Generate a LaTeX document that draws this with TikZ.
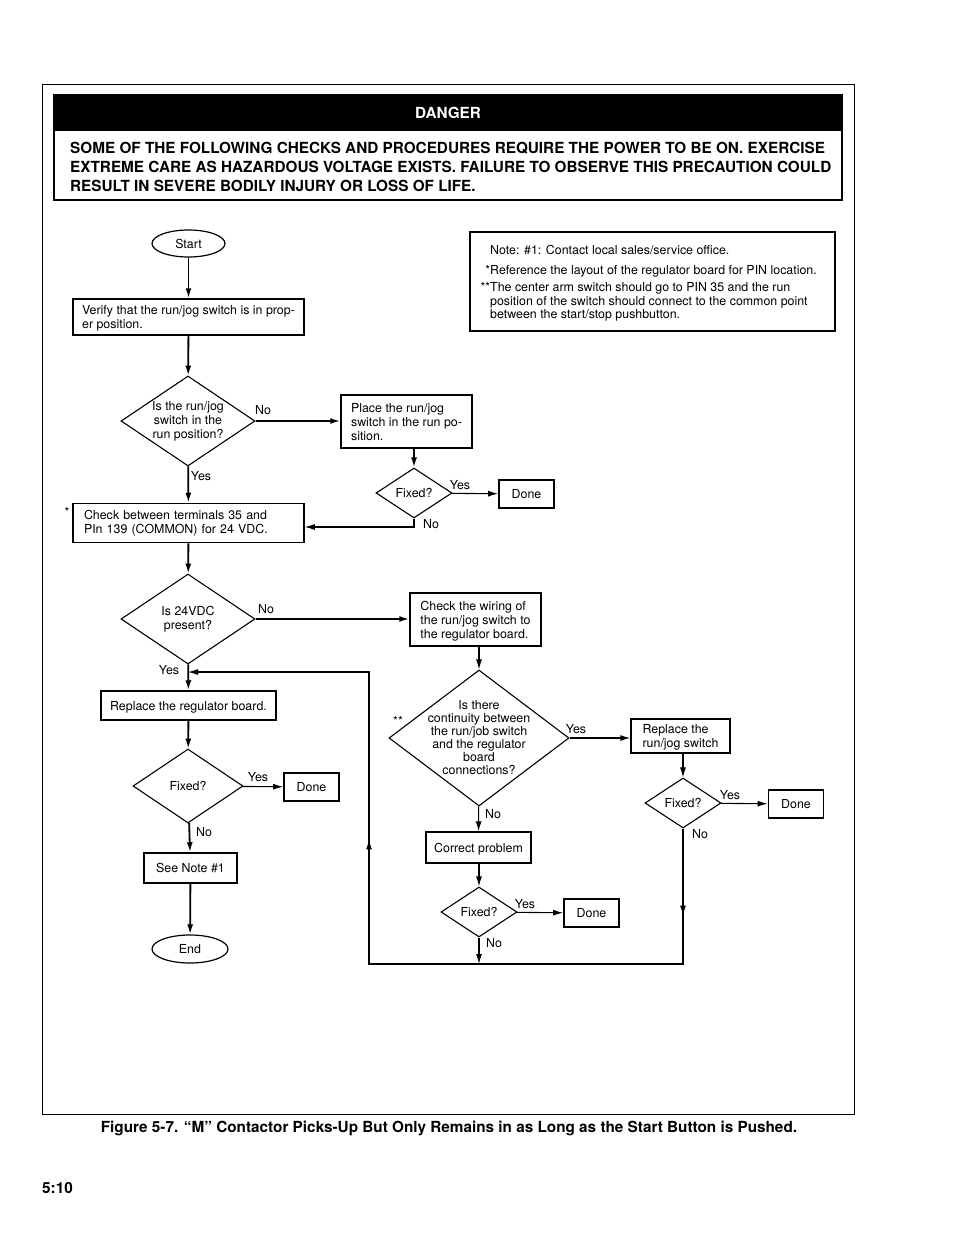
\documentclass[tikz,border=0pt]{standalone}
\usepackage{fontspec}
\setmainfont{TeX Gyre Heros}
\usetikzlibrary{shapes.geometric,arrows.meta,decorations.markings}

\begin{document}
\begin{tikzpicture}
        [x=1pt, y=-1pt,
        font=\fontsize{12.4}{14}\selectfont,
        box/.style={draw, line width=1.5pt, align=left, inner sep=0pt, text depth=-1.5pt},
        donebox/.style={draw, line width=1.8pt, inner sep=0pt, text depth=0pt,
            minimum width=55pt, minimum height=28pt},
        term/.style={ellipse, draw, line width=1.2pt, inner sep=0pt},
        decision/.style={diamond, draw, line width=1.1pt, inner sep=0pt},
        dtext/.style={align=center, inner sep=0pt},
        lbl/.style={inner sep=0pt, text height=9pt, text depth=0pt},
        bold/.style={inner sep=0pt, font=\bfseries\fontsize{15.3}{19}\selectfont},
        arrow/.style={line width=1.8pt, -{Latex[length=10pt,width=6pt]}},
        thinarrow/.style={line width=1.1pt, -{Latex[length=10pt,width=6pt]}},
        loopline/.style={line width=1.1pt, -{Latex[length=10pt,width=6pt]},
            postaction={decorate},
            decoration={markings,
                mark=at position 87pt with {\arrow{Latex[length=10pt,width=6pt]}},
                mark=at position 574pt with {\arrow{Latex[length=10pt,width=6pt]}}}}]
    \useasboundingbox (0,0) rectangle (954,1235);
    % page frame
    \draw[line width=1pt] (42,84) rectangle (854,1114);
    % danger panel
    \node[bold, fill=black, text=white, text depth=-6pt, minimum width=788pt, minimum height=36pt]
        (dangerhead) at (448,113) {DANGER};
    \node[draw, line width=1.8pt, inner sep=0pt, minimum width=788pt, minimum height=105pt]
        (danger) at (448,147.5) {};
    \node[bold, align=left, anchor=north west] (dangertxt) at (70,141.5)
        {SOME OF THE FOLLOWING CHECKS AND PROCEDURES REQUIRE THE POWER TO BE ON. EXERCISE\\
         EXTREME CARE AS HAZARDOUS VOLTAGE EXISTS. FAILURE TO OBSERVE THIS PRECAUTION COULD\\
         RESULT IN SEVERE BODILY INJURY OR LOSS OF LIFE.};
    % notes
    \node[draw, line width=1.2pt, minimum width=365pt, minimum height=99pt]
        (notebox) at (652.5,281.5) {};
    \node[inner sep=0pt, align=left, anchor=north west,
        font=\fontsize{12.4}{13.5}\selectfont] (notetxt) at (490,245.5)
        {Note: \#1: Contact local sales/service office.\\[6pt]
         \llap{*}Reference the layout of the regulator board for PIN location.\\[4pt]
         \llap{**}The center arm switch should go to PIN 35 and the run\\
         position of the switch should connect to the common point\\
         between the start/stop pushbutton.};

    % left column
    \node[term, minimum width=73pt, minimum height=27pt] (start) at (188.5,243.5) {Start};
    \node[box, minimum width=231pt, minimum height=36pt] (verify) at (188.5,317)
        {Verify that the run/jog switch is in prop-\\er position.};
    \node[decision, minimum width=134pt, minimum height=90pt,
        label={[dtext]center:{Is the run/jog\\switch in the\\run position?}}]
        (runpos) at (188,421) {};
    \node[box, text width=209pt, text depth=, minimum width=231pt, minimum height=39pt]
        (check) at (188.5,523)
        {Check between terminals 35 and\\PIn 139 (COMMON) for 24 VDC.};
    \node[decision, minimum width=134pt, minimum height=90pt,
        label={[dtext]center:{Is 24VDC\\present?}}]
        (vdc) at (188,619) {};
    \coordinate (join) at (188,672);
    \node[box, minimum width=175pt, minimum height=29pt] (board) at (188.5,705.5)
        {Replace the regulator board.};
    \node[decision, minimum width=110pt, minimum height=74pt] (fixboard) at (188,786) {Fixed?};
    \node[donebox] (doneboard) at (311.5,787) {Done};
    \node[box, minimum width=93pt, minimum height=30pt] (seenote) at (190.5,868) {See Note \#1};
    \node[term, minimum width=76pt, minimum height=28pt] (end) at (190,949) {End};

    % run position branch
    \node[box, minimum width=131pt, minimum height=53pt] (place) at (406.5,421.5)
        {Place the run/jog\\switch in the run po-\\sition.};
    \node[decision, minimum width=76pt, minimum height=50pt] (fixplace) at (414,493) {Fixed?};
    \node[donebox] (doneplace) at (526.5,494) {Done};

    % wiring branch
    \node[box, minimum width=131pt, minimum height=53pt] (wiring) at (475.5,619.5)
        {Check the wiring of\\the run/jog switch to\\the regulator board.};
    \node[decision, minimum width=180pt, minimum height=136pt,
        label={[dtext, font=\fontsize{12.4}{13}\selectfont]center:{Is there\\continuity between\\the run/job switch\\and the regulator\\board\\connections?}}]
        (contin) at (479,738) {};
    \node[box, minimum width=99pt, minimum height=34pt] (switch) at (680.5,736)
        {Replace the\\run/jog switch};
    \node[decision, minimum width=76pt, minimum height=50pt] (fixswitch) at (683,803) {Fixed?};
    \node[donebox] (doneswitch) at (796,804) {Done};
    \node[box, minimum width=105pt, minimum height=31pt] (correct) at (478.5,847.5)
        {Correct problem};
    \node[decision, minimum width=76pt, minimum height=50pt] (fixcorrect) at (479,912) {Fixed?};
    \node[donebox] (donecorrect) at (591.5,913) {Done};
    \coordinate (loopbr) at (683,964);
    \coordinate (loopbl) at (369,964);
    \coordinate (looptl) at (369,672);

    % connectors
    \draw[arrow] (start) -- (verify);
    \draw[arrow] (verify) -- (runpos);
    \draw[arrow] (runpos) -- (check);
    \draw[arrow] (check) -- (vdc);
    \draw[arrow] (vdc) -- (board);
    \draw[arrow] (board) -- (fixboard);
    \draw[thinarrow] (fixboard) -- (doneboard);
    \draw[arrow] (fixboard) -- (seenote);
    \draw[arrow] (seenote) -- (end);
    \draw[arrow] (runpos.east) -- (place.west |- runpos.east);
    \draw[arrow] (fixplace.north |- place.south) -- (fixplace.north);
    \draw[thinarrow] (fixplace) -- (doneplace);
    \draw[thinarrow] (fixplace.south) |- ([yshift=-4pt]check.east);
    \draw[arrow] (vdc.east) -- (wiring.west |- vdc.east);
    \draw[thinarrow] (contin.north |- wiring.south) -- (contin.north);
    \draw[thinarrow] (contin.east) -- (switch.west |- contin.east);
    \draw[thinarrow] (fixswitch.north |- switch.south) -- (fixswitch.north);
    \draw[thinarrow] (fixswitch) -- (doneswitch);
    \draw[thinarrow] (contin) -- (correct);
    \draw[thinarrow] (correct.south -| fixcorrect) -- (fixcorrect.north);
    \draw[thinarrow] (fixcorrect) -- (donecorrect);
    \draw[thinarrow] (fixcorrect.south) -- (fixcorrect.south |- loopbl);
    \draw[loopline] (fixswitch.south) -- (loopbr) -- (loopbl) -- (looptl) -- (join);

    % connector labels
    \node[lbl] (runposno) at (263,410) {No};
    \node[lbl] (runposyes) at (201,476) {Yes};
    \node[lbl] (fixplaceyes) at (460,485) {Yes};
    \node[lbl] (fixplaceno) at (431,524) {No};
    \node[lbl] (vdcno) at (266,609) {No};
    \node[lbl] (vdcyes) at (169,670) {Yes};
    \node[lbl] (continyes) at (576,729) {Yes};
    \node[lbl] (continno) at (493,814) {No};
    \node[lbl] (fixswitchyes) at (730,795) {Yes};
    \node[lbl] (fixswitchno) at (700,834) {No};
    \node[lbl] (fixcorrectyes) at (525,904) {Yes};
    \node[lbl] (fixcorrectno) at (494,943) {No};
    \node[lbl] (fixboardyes) at (258,777) {Yes};
    \node[lbl] (fixboardno) at (204,832) {No};
    \node[lbl] (checkstar) at (67,512) {*};
    \node[lbl] (continstar) at (398,721) {**};

    % caption and page number
    \node[bold] (caption) at (449,1128)
        {Figure 5-7. ``M'' Contactor Picks-Up But Only Remains in as Long as the Start Button is Pushed.};
    \node[bold, anchor=west] (pagenum) at (42,1188) {5:10};
\end{tikzpicture}
\end{document}
